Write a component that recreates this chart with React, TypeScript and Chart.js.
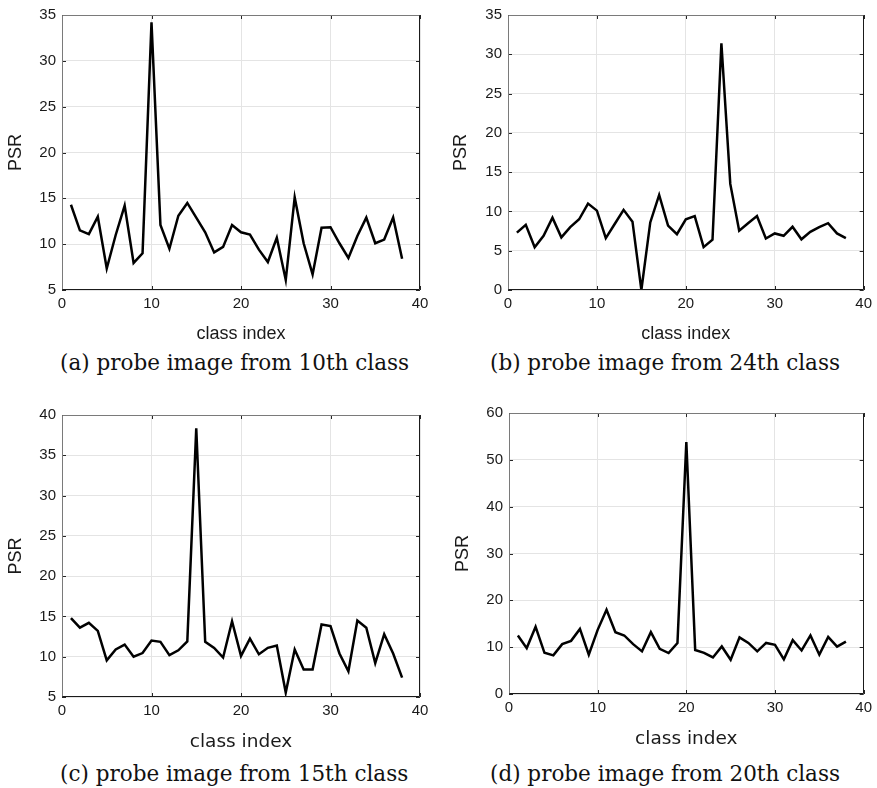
import React, { useEffect, useRef } from "react";
import { Chart, registerables } from "chart.js";

Chart.register(...registerables);

// ---- data ----
const classIndex = [1, 2, 3, 4, 5, 6, 7, 8, 9, 10, 11, 12, 13, 14, 15, 16, 17, 18, 19, 20, 21, 22, 23, 24, 25, 26, 27, 28, 29, 30, 31, 32, 33, 34, 35, 36, 37, 38];

const psrA = [14.3, 11.5, 11.1, 13.0, 7.35, 11.0, 14.2, 7.95, 9.0, 34.2, 12.1, 9.5, 13.1, 14.5, 12.9, 11.3, 9.1, 9.7, 12.1, 11.3, 11.05, 9.4, 8.05, 10.7, 6.1, 15.1, 10.1, 6.7, 11.8, 11.85, 10.1, 8.5, 10.9, 12.9, 10.1, 10.5, 12.9, 8.4];
const psrB = [7.3, 8.3, 5.45, 6.9, 9.2, 6.7, 8.0, 9.0, 11.0, 10.1, 6.6, 8.4, 10.2, 8.7, 0, 8.6, 12.1, 8.2, 7.1, 9.0, 9.4, 5.45, 6.4, 31.4, 13.5, 7.55, 8.5, 9.4, 6.55, 7.2, 6.9, 8.05, 6.45, 7.4, 8.0, 8.5, 7.2, 6.6];
const psrC = [14.8, 13.6, 14.2, 13.2, 9.55, 10.9, 11.5, 10.0, 10.45, 12.0, 11.85, 10.2, 10.8, 11.9, 38.35, 11.85, 11.1, 9.9, 14.4, 10.1, 12.25, 10.3, 11.1, 11.4, 5.55, 10.9, 8.4, 8.4, 14.0, 13.8, 10.4, 8.2, 14.5, 13.6, 9.2, 12.8, 10.4, 7.4];
const psrD = [12.5, 9.8, 14.35, 8.8, 8.25, 10.65, 11.35, 13.9, 8.4, 13.7, 18.0, 13.2, 12.5, 10.65, 9.1, 13.2, 9.65, 8.75, 10.9, 53.8, 9.4, 8.8, 7.8, 10.15, 7.3, 12.1, 10.9, 9.1, 10.9, 10.5, 7.4, 11.5, 9.3, 12.5, 8.4, 12.2, 10.1, 11.2];

const xTickValues = [0, 10, 20, 30, 40];
const yTicksA = [5, 10, 15, 20, 25, 30, 35];
const yTicksB = [0, 5, 10, 15, 20, 25, 30, 35];
const yTicksC = [5, 10, 15, 20, 25, 30, 35, 40];
const yTicksD = [0, 10, 20, 30, 40, 50, 60];

const xTitle = "class index";
const yTitle = "PSR";
const captions = [
  "(a) probe image from 10th class",
  "(b) probe image from 24th class",
  "(c) probe image from 15th class",
  "(d) probe image from 20th class",
];

const SANS = "'Liberation Sans', Arial, Helvetica, sans-serif";

// MATLAB-like box with inward ticks
const boxPlugin = {
  id: "matlabBox",
  afterDatasetsDraw(chart: any) {
    const { ctx, chartArea, scales } = chart;
    const { left, right, top, bottom } = chartArea;
    const x = scales.x;
    const y = scales.y;
    const tl = 4;
    ctx.save();
    ctx.lineWidth = 1;
    ctx.strokeStyle = "#262626";
    const seg = (x1: number, y1: number, x2: number, y2: number) => {
      ctx.beginPath();
      ctx.moveTo(x1, y1);
      ctx.lineTo(x2, y2);
      ctx.stroke();
    };
    x.ticks.forEach((t: any) => {
      const px = Math.round(x.getPixelForValue(t.value)) + 0.5;
      seg(px, bottom, px, bottom - tl);
      seg(px, top, px, top + tl);
    });
    y.ticks.forEach((t: any) => {
      const py = Math.round(y.getPixelForValue(t.value)) + 0.5;
      seg(left, py, left + tl, py);
      seg(right, py, right - tl, py);
    });
    const L = Math.round(left) + 0.5;
    const R = Math.round(right) - 0.5;
    const T = Math.round(top) + 0.5;
    const B = Math.round(bottom) - 0.5;
    ctx.strokeStyle = "#7a7a7a";
    seg(L, B, L, T);
    seg(L, T, R, T);
    ctx.strokeStyle = "#1a1a1a";
    seg(R, T, R, B);
    seg(L, B, R, B);
    ctx.restore();
  },
};

type PanelProps = {
  cLeft: number;
  cTop: number;
  cW: number;
  cH: number;
  plotL: number;
  plotT: number;
  plotR: number;
  plotB: number;
  values: number[];
  yTicks: number[];
  yTitlePad: number;
  xTitleFont: string;
  xTitleSize: number;
  xTitlePad: number;
};

function Panel(p: PanelProps) {
  const ref = useRef<HTMLCanvasElement | null>(null);
  useEffect(() => {
    if (!ref.current) return;
    const yMin = p.yTicks[0];
    const yMax = p.yTicks[p.yTicks.length - 1];
    const yStep = p.yTicks[1] - p.yTicks[0];
    const chart = new Chart(ref.current, {
      type: "line",
      data: {
        datasets: [
          {
            data: classIndex.map((c, i) => ({ x: c, y: p.values[i] })),
            borderColor: "#000000",
            borderWidth: 2.5,
            pointRadius: 0,
            tension: 0,
            fill: false,
          },
        ],
      },
      plugins: [boxPlugin],
      options: {
        responsive: false,
        animation: false,
        devicePixelRatio: 1,
        layout: {
          padding: { left: 0, top: p.plotT, right: p.cW - p.plotR, bottom: 0 },
        },
        plugins: {
          legend: { display: false },
          tooltip: { enabled: false },
          title: { display: false },
        },
        scales: {
          x: {
            type: "linear",
            min: xTickValues[0],
            max: xTickValues[xTickValues.length - 1],
            afterBuildTicks: (scale: any) => {
              scale.ticks = xTickValues.map((v) => ({ value: v }));
            },
            afterFit: (scale: any) => {
              scale.height = p.cH - p.plotB;
            },
            grid: { color: "#e4e4e4", lineWidth: 1, drawTicks: false },
            border: { display: false },
            ticks: {
              padding: 5,
              color: "#1a1a1a",
              font: { family: SANS, size: 15 },
              maxRotation: 0,
              autoSkip: false,
            },
            title: {
              display: true,
              text: xTitle,
              color: "#1a1a1a",
              font: { family: p.xTitleFont, size: p.xTitleSize },
              padding: { top: 0, bottom: p.xTitlePad },
            },
          },
          y: {
            type: "linear",
            min: yMin,
            max: yMax,
            ticks: {
              stepSize: yStep,
              padding: 6,
              color: "#1a1a1a",
              font: { family: SANS, size: 15 },
            },
            afterFit: (scale: any) => {
              scale.width = p.plotL;
            },
            grid: { color: "#e4e4e4", lineWidth: 1, drawTicks: false },
            border: { display: false },
            title: {
              display: true,
              text: yTitle,
              color: "#1a1a1a",
              font: { family: SANS, size: 18 },
              padding: { top: p.yTitlePad, bottom: 0 },
            },
          },
        },
      } as any,
    });
    return () => chart.destroy();
  }, []);
  return (
    <canvas
      ref={ref}
      width={p.cW}
      height={p.cH}
      style={{ position: "absolute", left: p.cLeft, top: p.cTop, width: p.cW, height: p.cH }}
    />
  );
}

const captionStyle = (left: number, top: number): React.CSSProperties => ({
  position: "absolute",
  left,
  top,
  fontFamily: "'DejaVu Serif', serif",
  fontSize: "21.5px",
  lineHeight: "21.5px",
  whiteSpace: "nowrap",
  color: "#111",
});

export default function App() {
  return (
    <div
      style={{
        position: "absolute",
        left: 0,
        top: 0,
        width: 877,
        height: 788,
        background: "#ffffff",
        overflow: "hidden",
      }}
    >
      <Panel cLeft={0} cTop={0} cW={440} cH={350} plotL={62} plotT={12} plotR={420} plotB={290}
        values={psrA} yTicks={yTicksA} yTitlePad={5.2} xTitleFont={SANS} xTitleSize={18} xTitlePad={4.8} />
      <Panel cLeft={440} cTop={0} cW={437} cH={350} plotL={68} plotT={12} plotR={425} plotB={290}
        values={psrB} yTicks={yTicksB} yTitlePad={10.2} xTitleFont={SANS} xTitleSize={18} xTitlePad={4.8} />
      <Panel cLeft={0} cTop={395} cW={440} cH={365} plotL={62} plotT={20} plotR={420} plotB={302}
        values={psrC} yTicks={yTicksC} yTitlePad={5.2} xTitleFont={"'DejaVu Sans', sans-serif"} xTitleSize={18.5} xTitlePad={6.9} />
      <Panel cLeft={440} cTop={395} cW={437} cH={365} plotL={69} plotT={18} plotR={426} plotB={299}
        values={psrD} yTicks={yTicksD} yTitlePad={12.2} xTitleFont={"'DejaVu Sans', sans-serif"} xTitleSize={18.5} xTitlePad={9.4} />
      <div style={captionStyle(60, 352)}>{captions[0]}</div>
      <div style={captionStyle(490, 352)}>{captions[1]}</div>
      <div style={captionStyle(60, 763)}>{captions[2]}</div>
      <div style={captionStyle(490, 763)}>{captions[3]}</div>
    </div>
  );
}
